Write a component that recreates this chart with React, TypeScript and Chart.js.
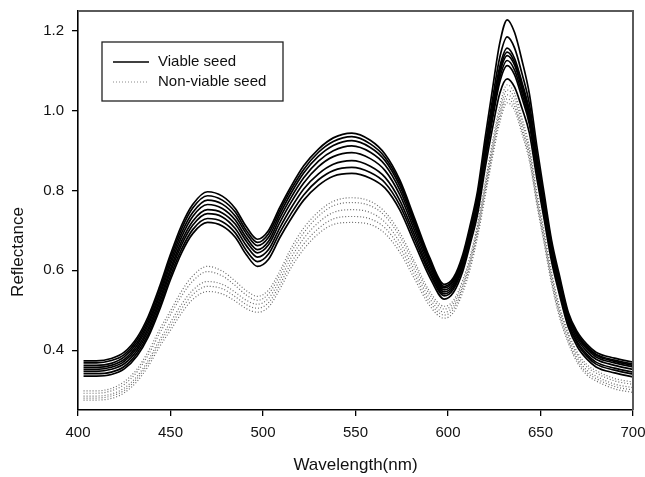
import { useEffect, useRef } from "react";
import { Chart, registerables } from "chart.js";
Chart.register(...registerables);

const wavelengths = [403, 410, 418, 425, 432, 438, 444, 450, 456, 462, 470, 478, 485, 491, 497, 503, 509, 515, 522, 530, 538, 548, 558, 566, 574, 582, 590, 598, 603, 608, 612, 616, 620, 624, 628, 632, 636, 640, 644, 648, 652, 656, 660, 665, 670, 675, 680, 690, 700];

const viable1 = [.373,.373,.379,.395,.432,.485,.558,.640,.713,.765,.797,.786,.755,.709,.678,.700,.757,.809,.862,.904,.932,.944,.926,.891,.826,.730,.633,.565,.582,.640,.714,.800,.930,1.053,1.170,1.228,1.196,1.126,1.042,.912,.792,.675,.592,.495,.445,.415,.395,.380,.370];
const viable2 = [.368,.368,.374,.389,.426,.478,.550,.632,.704,.756,.787,.776,.746,.700,.670,.692,.749,.801,.853,.896,.923,.935,.917,.883,.819,.723,.628,.560,.577,.633,.705,.788,.912,1.027,1.134,1.185,1.157,1.093,1.017,.892,.778,.665,.583,.490,.440,.410,.390,.375,.365];
const viable3 = [.362,.362,.367,.383,.419,.470,.541,.623,.694,.745,.776,.766,.736,.692,.662,.683,.740,.792,.844,.886,.913,.925,.908,.875,.811,.717,.622,.556,.573,.628,.698,.779,.899,1.010,1.111,1.157,1.131,1.071,1.000,.879,.768,.658,.578,.487,.437,.407,.387,.372,.362];
const viable4 = [.357,.357,.362,.377,.413,.463,.534,.614,.684,.735,.765,.755,.726,.682,.652,.673,.730,.781,.832,.874,.900,.912,.896,.864,.801,.709,.616,.551,.568,.623,.693,.773,.893,1.002,1.102,1.147,1.122,1.062,.993,.873,.763,.653,.573,.483,.433,.403,.383,.368,.358];
const viable5 = [.352,.352,.357,.372,.406,.455,.525,.604,.673,.723,.752,.744,.716,.673,.644,.664,.719,.769,.819,.860,.885,.895,.880,.850,.789,.699,.608,.546,.563,.618,.688,.767,.886,.995,1.094,1.138,1.114,1.054,.985,.865,.756,.646,.567,.477,.427,.397,.377,.362,.352];
const viable6 = [.347,.347,.352,.366,.400,.448,.517,.596,.664,.713,.742,.734,.705,.662,.633,.652,.706,.755,.804,.842,.866,.875,.861,.833,.775,.688,.600,.541,.558,.612,.682,.761,.879,.986,1.083,1.126,1.102,1.043,.975,.856,.748,.639,.559,.470,.420,.390,.370,.355,.345];
const viable7 = [.341,.341,.345,.359,.393,.440,.508,.586,.653,.702,.730,.722,.694,.650,.622,.641,.694,.741,.789,.827,.850,.858,.845,.819,.763,.678,.593,.536,.553,.607,.676,.754,.871,.977,1.072,1.113,1.090,1.032,.966,.848,.741,.632,.553,.465,.415,.385,.365,.350,.340];
const viable8 = [.335,.335,.339,.353,.386,.433,.500,.577,.644,.692,.720,.711,.683,.639,.610,.628,.681,.728,.776,.813,.836,.843,.831,.806,.751,.667,.584,.528,.545,.598,.666,.741,.854,.955,1.044,1.080,1.059,1.006,.944,.831,.727,.622,.544,.458,.408,.378,.358,.343,.333];

const nonViable1 = [.298,.298,.304,.321,.353,.397,.451,.499,.548,.586,.610,.598,.573,.549,.535,.551,.597,.654,.706,.747,.773,.782,.773,.746,.694,.621,.548,.510,.525,.576,.636,.717,.819,.921,1.013,1.065,1.044,.982,.910,.798,.697,.596,.515,.444,.394,.364,.349,.329,.320];
const nonViable2 = [.292,.292,.298,.314,.346,.388,.441,.489,.536,.573,.597,.586,.562,.538,.525,.541,.587,.643,.694,.736,.762,.770,.762,.736,.684,.612,.540,.503,.518,.568,.628,.709,.809,.910,1.001,1.052,1.032,.971,.900,.790,.689,.589,.508,.438,.388,.358,.343,.323,.314];
const nonViable3 = [.285,.285,.290,.305,.335,.375,.425,.470,.515,.550,.572,.565,.545,.525,.515,.530,.575,.630,.680,.720,.745,.752,.745,.720,.670,.600,.530,.495,.510,.560,.620,.700,.800,.900,.990,1.040,1.020,.960,.890,.780,.680,.580,.500,.430,.380,.350,.335,.315,.306];
const nonViable4 = [.280,.280,.285,.299,.329,.368,.417,.460,.504,.539,.560,.554,.534,.514,.505,.519,.563,.617,.666,.705,.729,.735,.729,.706,.657,.589,.521,.488,.503,.553,.613,.692,.792,.891,.981,1.030,1.010,.951,.882,.772,.673,.573,.494,.424,.374,.344,.329,.309,.300];
const nonViable5 = [.275,.275,.279,.293,.322,.360,.408,.450,.493,.527,.547,.541,.523,.504,.495,.508,.552,.605,.653,.692,.715,.720,.715,.692,.645,.578,.512,.480,.495,.545,.604,.684,.783,.882,.971,1.020,1.001,.942,.874,.765,.666,.566,.487,.418,.368,.338,.323,.303,.294];

const xTicks = [400, 450, 500, 550, 600, 650, 700];
const yTicks = [0.4, 0.6, 0.8, 1.0, 1.2];
const legendLabels = ["Viable seed", "Non-viable seed"];
const xTitle = "Wavelength(nm)";
const yTitle = "Reflectance";

const FONT = "'Liberation Sans', Arial, sans-serif";

export default function App() {
  const ref = useRef<HTMLCanvasElement>(null);

  useEffect(() => {
    if (!ref.current) return;
    const viable = [viable1, viable2, viable3, viable4, viable5, viable6, viable7, viable8];
    const nonViable = [nonViable1, nonViable2, nonViable3, nonViable4, nonViable5];
    const toPts = (arr: number[]) => wavelengths.map((w, i) => ({ x: w, y: arr[i] }));

    const datasets: any[] = [
      ...viable.map((a, i) => ({
        label: legendLabels[0] + " " + (i + 1),
        data: toPts(a),
        borderColor: "#000000",
        borderWidth: 1.7,
        pointRadius: 0,
        cubicInterpolationMode: "monotone",
        fill: false,
      })),
      ...nonViable.map((a, i) => ({
        label: legendLabels[1] + " " + (i + 1),
        data: toPts(a),
        borderColor: "#6a6a6a",
        borderWidth: 1.2,
        borderDash: [1, 2],
        pointRadius: 0,
        cubicInterpolationMode: "monotone",
        fill: false,
      })),
    ];

    const decor = {
      id: "decor",
      afterDraw(chart: any) {
        const { ctx, chartArea: a } = chart;
        ctx.save();
        ctx.strokeStyle = "#5a5a5a";
        ctx.lineWidth = 2;
        ctx.setLineDash([]);
        ctx.beginPath();
        ctx.moveTo(a.left, a.top);
        ctx.lineTo(a.right, a.top);
        ctx.lineTo(a.right, a.bottom);
        ctx.stroke();

        const lx = a.left + 24, ly = a.top + 31, lw = 181, lh = 59;
        ctx.fillStyle = "#ffffff";
        ctx.fillRect(lx, ly, lw, lh);
        ctx.strokeStyle = "#222222";
        ctx.lineWidth = 1.3;
        ctx.strokeRect(lx, ly, lw, lh);
        ctx.strokeStyle = "#000000";
        ctx.lineWidth = 1.5;
        ctx.beginPath();
        ctx.moveTo(lx + 11, ly + 20);
        ctx.lineTo(lx + 47, ly + 20);
        ctx.stroke();
        ctx.strokeStyle = "#8a8a8a";
        ctx.lineWidth = 1;
        ctx.setLineDash([1, 2]);
        ctx.beginPath();
        ctx.moveTo(lx + 11, ly + 40);
        ctx.lineTo(lx + 47, ly + 40);
        ctx.stroke();
        ctx.setLineDash([]);
        ctx.fillStyle = "#111111";
        ctx.font = "15px " + FONT;
        ctx.textBaseline = "middle";
        ctx.textAlign = "left";
        ctx.fillText(legendLabels[0], lx + 56, ly + 20);
        ctx.fillText(legendLabels[1], lx + 56, ly + 40);

        ctx.font = "17px " + FONT;
        ctx.textAlign = "center";
        ctx.textBaseline = "middle";
        ctx.fillText(xTitle, (a.left + a.right) / 2, 465);
        ctx.translate(18, 252);
        ctx.rotate(-Math.PI / 2);
        ctx.fillText(yTitle, 0, 0);
        ctx.restore();
      },
    };

    const chart = new Chart(ref.current, {
      type: "line",
      data: { datasets },
      options: {
        animation: false,
        responsive: false,
        maintainAspectRatio: false,
        devicePixelRatio: 1,
        layout: { padding: { top: 11, right: 12, left: 0, bottom: 0 } },
        plugins: { legend: { display: false }, tooltip: { enabled: false } },
        scales: {
          x: {
            type: "linear",
            min: 400,
            max: 700,
            afterBuildTicks: (s: any) => { s.ticks = xTicks.map((v) => ({ value: v })); },
            afterFit: (s: any) => { s.height = 67; s.paddingLeft = 0; s.paddingRight = 0; s.paddingTop = 0; s.paddingBottom = 0; },
            grid: { drawOnChartArea: false, drawTicks: true, tickLength: 6, color: "#000000", lineWidth: 1.3 },
            border: { display: true, color: "#000000", width: 1.6 },
            ticks: { color: "#111111", padding: 8, maxRotation: 0, font: { size: 15, family: FONT }, callback: (v: any) => String(v) },
          },
          y: {
            type: "linear",
            min: 0.25,
            max: 1.25,
            afterBuildTicks: (s: any) => { s.ticks = yTicks.map((v) => ({ value: v })); },
            afterFit: (s: any) => { s.width = 78; s.paddingLeft = 0; s.paddingRight = 0; s.paddingTop = 0; s.paddingBottom = 0; },
            grid: { drawOnChartArea: false, drawTicks: true, tickLength: 6, color: "#000000", lineWidth: 1.3 },
            border: { display: true, color: "#000000", width: 1.6 },
            ticks: { color: "#111111", padding: 8, font: { size: 15, family: FONT }, callback: (v: any) => Number(v).toFixed(1) },
          },
        },
      } as any,
      plugins: [decor],
    });
    return () => chart.destroy();
  }, []);

  return (
    <div style={{ position: "absolute", left: 0, top: 0, width: 645, height: 477, background: "#fff" }}>
      <canvas ref={ref} width={645} height={477} style={{ display: "block" }} />
    </div>
  );
}
